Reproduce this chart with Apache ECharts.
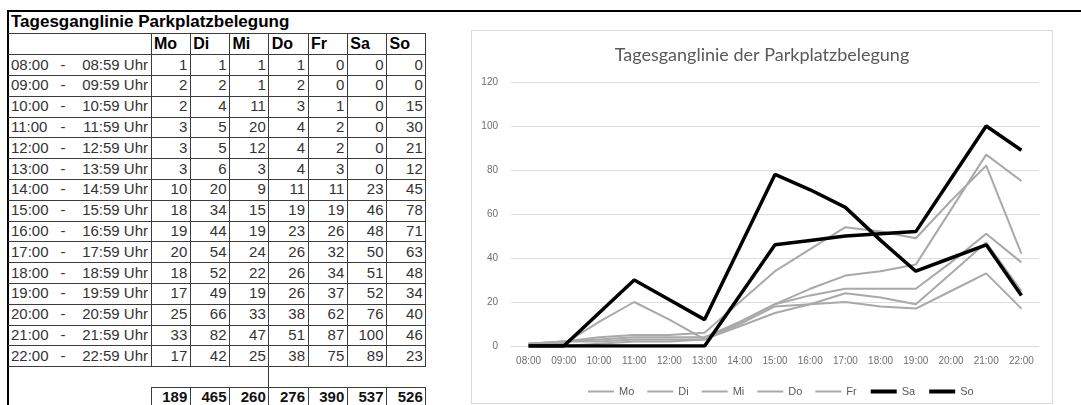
<!DOCTYPE html>
<html>
<head>
<meta charset="utf-8">
<title>Tagesganglinie Parkplatzbelegung</title>
<script src="https://cdn.jsdelivr.net/npm/echarts@6/dist/echarts.min.js"></script>
<style>
  html, body { margin: 0; padding: 0; background: #fff; }
  #page { position: relative; width: 1081px; height: 405px; overflow: hidden; background: #fff;
          font-family: "Liberation Sans", Arial, sans-serif; }
  .c { position: absolute; box-sizing: border-box; white-space: nowrap; }
  .ln { position: absolute; background: #3c3c3c; }
  #chart { position: absolute; left: 471px; top: 30px; width: 582px; height: 374px;
           border: 1px solid #d9d9d9; box-sizing: border-box; }
</style>
</head>
<body>
<div id="page">
  <div id="tabelle"></div>
  <div id="chart"></div>
</div>
<script>
// Wochentage und Stunden
const tage = ['Mo', 'Di', 'Mi', 'Do', 'Fr', 'Sa', 'So'];
const stunden = ['08:00', '09:00', '10:00', '11:00', '12:00', '13:00', '14:00', '15:00',
                 '16:00', '17:00', '18:00', '19:00', '20:00', '21:00', '22:00'];

// Belegte Stellplätze je Stunde
const montag     = [1, 2, 2, 3, 3, 3, 10, 18, 19, 20, 18, 17, 25, 33, 17];
const dienstag   = [1, 2, 4, 5, 5, 6, 20, 34, 44, 54, 52, 49, 66, 82, 42];
const mittwoch   = [1, 1, 11, 20, 12, 3, 9, 15, 19, 24, 22, 19, 33, 47, 25];
const donnerstag = [1, 2, 3, 4, 4, 4, 11, 19, 23, 26, 26, 26, 38, 51, 38];
const freitag    = [0, 0, 1, 2, 2, 3, 11, 19, 26, 32, 34, 37, 62, 87, 75];
const samstag    = [0, 0, 0, 0, 0, 0, 23, 46, 48, 50, 51, 52, 76, 100, 89];
const sonntag    = [0, 0, 15, 30, 21, 12, 45, 78, 71, 63, 48, 34, 40, 46, 23];

// Tagessummen (Fußzeile der Tabelle)
const summen = [189, 465, 260, 276, 390, 537, 526];

const werte = [montag, dienstag, mittwoch, donnerstag, freitag, samstag, sonntag];

// ---------- Tabelle ----------
(function tabelle() {
  const host = document.getElementById('tabelle');
  const L = 8, LABEL_R = 151, COL_W = 39.25, R = LABEL_R + 7 * COL_W;
  const TOP = 11, HEAD_T = 33.2, ROW_T = 54.6, ROW_H = 20.8;
  const colX = k => LABEL_R + k * COL_W;
  const blankT = ROW_T + stunden.length * ROW_H;
  const sumT = blankT + ROW_H;

  function line(x, y, w, h, color) {
    const d = document.createElement('div');
    d.className = 'ln';
    d.style.left = x + 'px'; d.style.top = y + 'px';
    d.style.width = w + 'px'; d.style.height = h + 'px';
    if (color) d.style.background = color;
    host.appendChild(d);
  }
  function text(str, x, y, w, h, align, css) {
    const d = document.createElement('div');
    d.className = 'c';
    d.textContent = str;
    d.style.left = x + 'px'; d.style.top = y + 'px';
    d.style.width = w + 'px'; d.style.height = h + 'px';
    d.style.lineHeight = h + 'px';
    d.style.textAlign = align;
    Object.assign(d.style, css || {});
    host.appendChild(d);
  }

  // Rahmen oben und links
  line(L - 1, TOP - 1, 1081 - L + 1, 2, '#000');
  line(L - 1, TOP - 1, 2, 405, '#000');

  // Überschrift
  text('Tagesganglinie Parkplatzbelegung', 11, TOP, 400, HEAD_T - TOP, 'left',
       { fontWeight: 'bold', fontSize: '17px', color: '#000' });

  // Horizontale Linien
  line(L, HEAD_T, R - L, 1);
  for (let i = 0; i <= stunden.length; i++) line(L, ROW_T + i * ROW_H - 0.5, R - L, 1);
  line(LABEL_R, sumT - 0.5, R - LABEL_R, 1);

  // Vertikale Linien
  for (let k = 0; k <= 7; k++) {
    const x = colX(k) - 0.5;
    line(x, HEAD_T, 1, blankT - HEAD_T);
    line(x, sumT, 1, 405 - sumT);
  }
  line(colX(3) - 0.5, blankT, 1, ROW_H);

  // Kopfzeile
  tage.forEach((t, k) => text(t, colX(k) + 3, HEAD_T, COL_W, ROW_T - HEAD_T, 'left',
    { fontWeight: 'bold', fontSize: '16px', color: '#000' }));

  // Datenzeilen
  stunden.forEach((s, i) => {
    const y = ROW_T + i * ROW_H;
    const ende = s.slice(0, 2) + ':59 Uhr';
    const css = { fontSize: '15px', color: '#333' };
    text(s, 11, y, 60, ROW_H, 'left', css);
    text('-', 58, y, 10, ROW_H, 'center', css);
    text(ende, 70, y, 78, ROW_H, 'right', css);
    werte.forEach((reihe, k) => text(String(reihe[i]), colX(k), y, COL_W - 3, ROW_H, 'right', css));
  });

  // Summenzeile
  summen.forEach((v, k) => text(String(v), colX(k), sumT, COL_W - 3, ROW_H, 'right',
    { fontWeight: 'bold', fontSize: '15px', color: '#111' }));
})();

// ---------- Diagramm ----------
const grau = '#a9a9a9';
const schwarz = '#000000';
const axisFont = '"Liberation Sans", Arial, sans-serif';

const chart = echarts.init(document.getElementById('chart'), null, { renderer: 'canvas' });
chart.setOption({
  animation: false,
  backgroundColor: '#fff',
  title: {
    text: 'Tagesganglinie der Parkplatzbelegung',
    left: 'center',
    top: 10,
    textStyle: { fontFamily: 'Lato, "Open Sans", sans-serif', fontSize: 18, fontWeight: 'normal', color: '#595959' }
  },
  grid: { left: 39, right: 13, top: 51, bottom: 57, containLabel: false },
  legend: {
    left: 110,
    top: 350,
    itemWidth: 26,
    itemHeight: 10,
    itemGap: 12,
    textStyle: { fontFamily: axisFont, fontSize: 11, color: '#595959' },
    data: tage.map((t, k) => ({
      name: t,
      itemStyle: { opacity: 0 },
      lineStyle: { width: k >= 5 ? 4 : 2 }
    }))
  },
  xAxis: {
    type: 'category',
    data: stunden,
    boundaryGap: true,
    axisLine: { lineStyle: { color: '#d9d9d9', width: 1 } },
    axisTick: { show: false },
    axisLabel: { interval: 0, margin: 10, fontFamily: axisFont, fontSize: 10, color: '#6f6f6f' }
  },
  yAxis: {
    type: 'value',
    min: 0, max: 120, interval: 20,
    axisLine: { show: false },
    axisTick: { show: false },
    splitLine: { lineStyle: { color: '#dedede', width: 1 } },
    axisLabel: { margin: 13, fontFamily: axisFont, fontSize: 10, color: '#6f6f6f' }
  },
  series: tage.map((t, k) => ({
    name: t,
    type: 'line',
    data: werte[k],
    symbol: 'none',
    z: k >= 5 ? 3 : 2,
    color: k >= 5 ? schwarz : grau,
    lineStyle: { color: k >= 5 ? schwarz : grau, width: k >= 5 ? 3.5 : 2 },
    emphasis: { disabled: true }
  }))
});
</script>
</body>
</html>
